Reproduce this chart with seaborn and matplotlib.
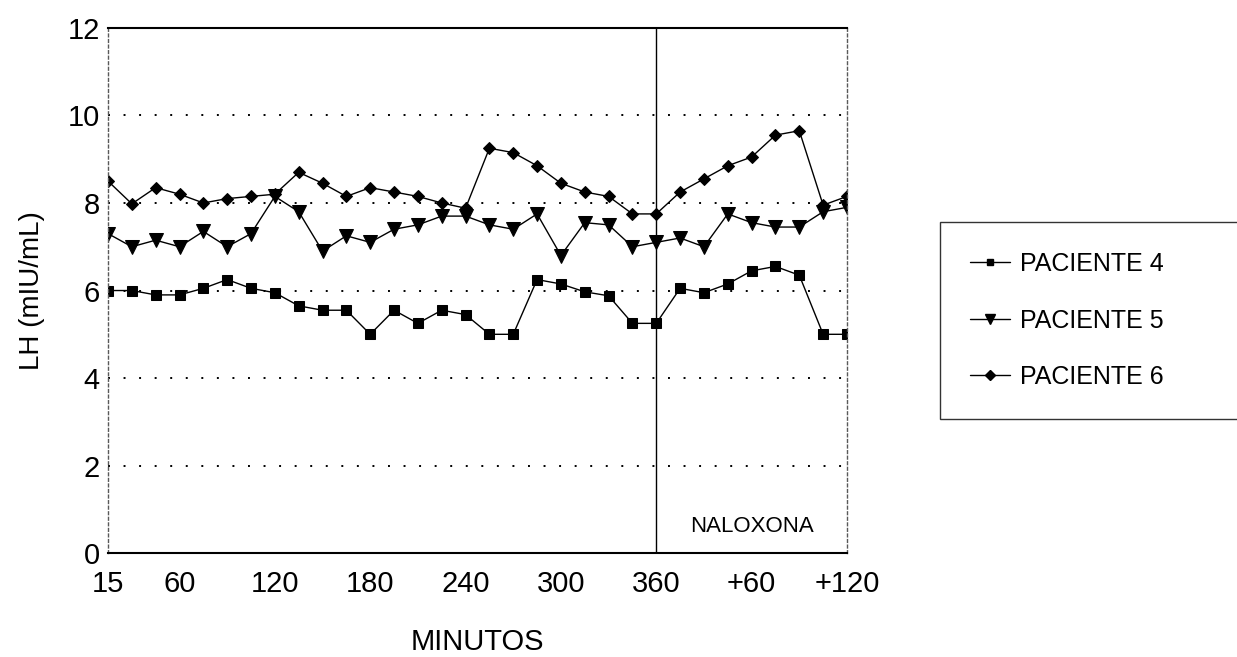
import numpy as np
import pandas as pd
import matplotlib
matplotlib.use("Agg")
import matplotlib.pyplot as plt
import seaborn as sns

# Sampling times (minutes); after 360 the clock restarts with naloxone
minutos = ["15", "30", "45", "60", "75", "90", "105", "120", "135", "150", "165", "180",
           "195", "210", "225", "240", "255", "270", "285", "300", "315", "330", "345", "360",
           "+15", "+30", "+45", "+60", "+75", "+90", "+105", "+120"]

# LH values (mIU/mL)
paciente_4 = [6.0, 6.0, 5.9, 5.9, 6.05, 6.25, 6.05, 5.95, 5.65, 5.55, 5.55, 5.0,
              5.55, 5.25, 5.55, 5.45, 5.0, 5.0, 6.25, 6.15, 5.97, 5.88, 5.25, 5.25,
              6.05, 5.95, 6.15, 6.45, 6.55, 6.35, 5.0, 5.0]
paciente_5 = [7.3, 7.0, 7.15, 7.0, 7.35, 7.0, 7.3, 8.15, 7.8, 6.9, 7.25, 7.1,
              7.4, 7.5, 7.7, 7.7, 7.5, 7.4, 7.75, 6.8, 7.55, 7.5, 7.0, 7.1,
              7.2, 7.0, 7.75, 7.55, 7.45, 7.45, 7.8, 7.9]
paciente_6 = [8.5, 7.98, 8.35, 8.2, 8.0, 8.1, 8.15, 8.2, 8.7, 8.45, 8.15, 8.35,
              8.25, 8.15, 8.0, 7.88, 9.25, 9.15, 8.85, 8.45, 8.25, 8.15, 7.75, 7.75,
              8.25, 8.55, 8.85, 9.05, 9.55, 9.65, 7.95, 8.15]

tick_labels = ["15", "60", "120", "180", "240", "300", "360", "+60", "+120"]
naloxona_inicio = "360"

pos = np.arange(len(minutos))
df = pd.DataFrame({
    "pos": np.tile(pos, 3),
    "LH": paciente_4 + paciente_5 + paciente_6,
    "serie": ["PACIENTE 4"] * len(minutos) + ["PACIENTE 5"] * len(minutos) + ["PACIENTE 6"] * len(minutos),
})

sns.set_style("white")
plt.rcParams["font.family"] = ["Liberation Sans", "DejaVu Sans"]
plt.rcParams["text.color"] = "black"
plt.rcParams["axes.labelcolor"] = "black"
plt.rcParams["xtick.color"] = "black"
plt.rcParams["ytick.color"] = "black"

fig = plt.figure(figsize=(12.37, 6.57), dpi=100)
ax = fig.add_axes([0.0873, 0.158, 0.5974, 0.7996])

sns.lineplot(data=df, x="pos", y="LH", hue="serie", style="serie",
             palette=["black", "black", "black"],
             markers={"PACIENTE 4": "s", "PACIENTE 5": "v", "PACIENTE 6": "D"},
             dashes=False, linewidth=1.0, markeredgecolor="black",
             ax=ax, legend=False)
for line, ms in zip(ax.lines, [6.5, 9.5, 6.5]):
    line.set_markersize(ms)

# naloxone marker line
x_nal = minutos.index(naloxona_inicio)
ax.axvline(x_nal, color="black", lw=1.0)
ax.text((x_nal + len(minutos) - 1) / 2, 0.6, "NALOXONA", ha="center", va="center", fontsize=16)

ax.set_xlim(0, len(minutos) - 1)
ax.set_ylim(0, 12)
ax.set_yticks([0, 2, 4, 6, 8, 10, 12])
ax.set_xticks([minutos.index(t) for t in tick_labels])
ax.set_xticklabels(tick_labels)
ax.tick_params(axis="both", length=0, labelsize=21)
ax.tick_params(axis="x", pad=12)
ax.tick_params(axis="y", pad=6)

for y in [2, 4, 6, 8, 10]:
    ax.axhline(y, color="black", lw=1.4, linestyle=(0, (1, 7)), zorder=0)

for s in ["top", "bottom"]:
    ax.spines[s].set_color("black")
    ax.spines[s].set_linewidth(1.5)
for s in ["left", "right"]:
    ax.spines[s].set_color("0.35")
    ax.spines[s].set_linewidth(1.0)
    ax.spines[s].set_linestyle((0, (2, 2)))

ax.set_xlabel("MINUTOS", fontsize=21, labelpad=22)
ax.set_ylabel("LH (mIU/mL)", fontsize=20, labelpad=16)

# legend outside on the right
handles = [plt.Line2D([], [], color="black", lw=1.0, marker=m, markersize=ms)
           for m, ms in [("s", 5), ("v", 7), ("D", 5)]]
leg = fig.legend(handles, ["PACIENTE 4", "PACIENTE 5", "PACIENTE 6"],
                 loc="upper left", bbox_to_anchor=(0.76, 0.362, 0.27, 0.3),
                 bbox_transform=fig.transFigure, mode="expand", borderaxespad=0,
                 fontsize=18, frameon=True, fancybox=False, shadow=False,
                 labelspacing=1.3, borderpad=1.2, handlelength=1.6, handletextpad=0.4)
leg.get_frame().set_edgecolor("black")
leg.get_frame().set_linewidth(1.0)

fig.savefig("out.png", dpi=100)
